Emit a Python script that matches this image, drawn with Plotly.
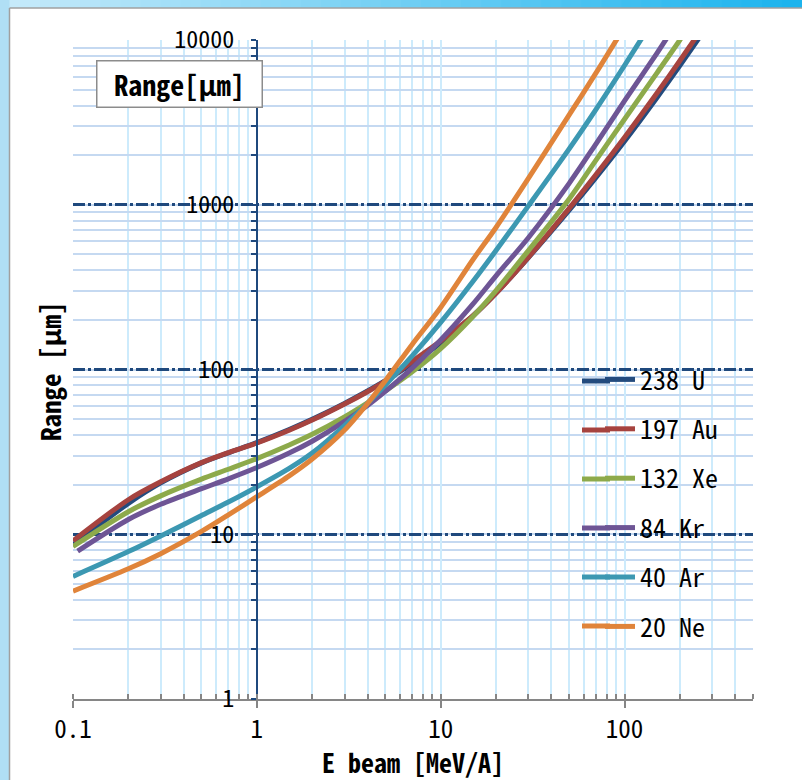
import plotly.graph_objects as go

# ---------------- data ----------------
energy_U = [0.1, 0.2, 0.3, 0.5, 0.7, 1, 1.5, 2, 3, 4, 5, 7, 10, 15, 20, 30, 50, 70, 100, 150, 200, 300]
range_U = [8.61, 15.4, 20.5, 27.1, 31.2, 36.0, 43.2, 49.8, 62.2, 74.0, 85.5, 109, 145, 212, 291, 478, 927,
           1466, 2432, 4467, 6998, 13400]

energy_Au = [0.1, 0.2, 0.3, 0.5, 0.7, 1, 1.5, 2, 3, 4, 5, 7, 10, 15, 20, 30, 50, 70, 100, 150, 200, 300]
range_Au = [9.12, 16.2, 20.8, 27.2, 31.3, 35.8, 42.8, 49.3, 61.7, 73.3, 84.9, 112, 149, 212, 290, 480, 951,
            1524, 2564, 4753, 7482, 14420]

energy_Xe = [0.1, 0.2, 0.3, 0.5, 0.7, 1, 1.5, 2, 3, 4, 5, 7, 10, 15, 20, 30, 50, 70, 100, 150, 200, 300]
range_Xe = [8.43, 13.7, 17.1, 21.6, 24.8, 28.8, 34.8, 40.4, 51.5, 62.7, 74.0, 96.8, 134, 210, 301, 527, 1084,
            1866, 3303, 6300, 10000, 20000]

energy_Kr = [0.106, 0.2, 0.3, 0.5, 0.7, 1, 1.5, 2, 3, 4, 5, 7, 10, 15, 20, 30, 50, 70, 100, 150, 200]
range_Kr = [7.91, 12.3, 15.2, 18.9, 21.7, 25.4, 31.1, 36.7, 48.4, 60.5, 73.6, 102, 151, 250, 370, 631, 1349,
            2344, 4266, 8300, 13600]

energy_Ar = [0.1, 0.2, 0.3, 0.5, 0.7, 1, 1.5, 2, 3, 4, 5, 7, 10, 15, 20, 30, 50, 70, 100, 150]
range_Ar = [5.55, 7.85, 9.77, 13.0, 15.7, 19.4, 25.1, 31.1, 45.7, 62.4, 80.5, 121, 193, 343, 527, 984, 2183,
            3793, 7000, 14290]

energy_Ne = [0.1, 0.2, 0.3, 0.5, 0.7, 1, 1.5, 2, 3, 4, 5, 7, 10, 15, 20, 30, 50, 70, 100]
range_Ne = [4.52, 6.17, 7.62, 10.4, 13.1, 16.9, 22.6, 28.6, 42.9, 62.2, 85.5, 142, 238, 465, 728, 1445, 3508,
            6310, 12020]

series_names = ["238 U", "197 Au", "132 Xe", "84 Kr", "40 Ar", "20 Ne"]
x_tick_vals = [0.1, 1, 10, 100]
x_tick_text = ["0.1", "1", "10", "100"]
y_tick_vals = [1, 10, 100, 1000, 10000]
y_tick_text = ["1", "10", "100", "1000", "10000"]
x_title = "E beam [MeV/A]"
y_title = "Range [μm]"
box_title = "Range[μm]"

# ---------------- styling ----------------
colors = ["#234B7E", "#A6433F", "#8DAA4B", "#6E5595", "#3C98B2", "#E0843A"]
FONT = "Noto Sans Mono CJK JP, Noto Sans CJK JP, sans-serif"
W, H = 802, 780
L, R, T, B = 73, 49, 40, 81
PW, PH = W - L - R, H - T - B


def px(x):
    return (x - L) / PW


def py(y):
    return (H - B - y) / PH


fig = go.Figure()
data = [
    (energy_U, range_U), (energy_Au, range_Au), (energy_Xe, range_Xe),
    (energy_Kr, range_Kr), (energy_Ar, range_Ar), (energy_Ne, range_Ne),
]
for (ex, ry), name, col in zip(data, series_names, colors):
    fig.add_trace(go.Scatter(
        x=ex, y=ry, name=name, mode="lines", legendgroup=name,
        line=dict(color=col, width=5, shape="spline", smoothing=0.8),
    ))

shapes = []
# outer frame: left light-blue strip and top gradient strip
n = 40
c0 = (198, 234, 250)
c1 = (28, 180, 238)
for i in range(n):
    t = i / (n - 1)
    c = tuple(int(round(c0[k] + (c1[k] - c0[k]) * t)) for k in range(3))
    shapes.append(dict(type="rect", xref="paper", yref="paper",
                       x0=px(W * i / n), x1=px(W * (i + 1) / n + 1), y0=py(8), y1=py(-2),
                       fillcolor="rgb(%d,%d,%d)" % c, line=dict(width=0), layer="above"))
shapes.append(dict(type="rect", xref="paper", yref="paper", x0=px(-2), x1=px(9.5), y0=py(H + 2), y1=py(-2),
                   fillcolor="#B0DFF5", line=dict(width=0), layer="above"))
shapes.append(dict(type="line", xref="paper", yref="paper", x0=px(9.5), x1=px(9.5), y0=py(H + 2), y1=py(8),
                   line=dict(color="#A0A0A0", width=1.5), layer="above"))
shapes.append(dict(type="line", xref="paper", yref="paper", x0=px(9.5), x1=px(W + 2), y0=py(8), y1=py(8),
                   line=dict(color="#A0A0A0", width=1.5), layer="above"))
# white legend background box
shapes.append(dict(type="rect", xref="paper", yref="paper", x0=px(570), x1=px(734), y0=py(650), y1=py(354),
                   fillcolor="white", line=dict(width=0), layer="between"))
# longer legend line samples (left part of each sample)
for k, col in enumerate(colors):
    yk = 381 + 49 * k
    shapes.append(dict(type="line", xref="paper", yref="paper", x0=px(582), x1=px(610), y0=py(yk), y1=py(yk),
                       line=dict(color=col, width=5), layer="above"))

annotations = [
    dict(text=box_title, xref="paper", yref="paper", x=px(179.5), y=py(83.5), xanchor="center", yanchor="middle",
         showarrow=False, font=dict(family=FONT, size=28, color="black", weight="bold"),
         bgcolor="white", bordercolor="#8C8C8C", borderwidth=1.5, width=162, height=43, borderpad=1),
    dict(text=y_title, xref="paper", yref="paper", x=px(49), y=py(372), xanchor="center", yanchor="middle",
         textangle=-90, showarrow=False, font=dict(family=FONT, size=27, color="black", weight="bold")),
]

fig.update_layout(
    width=W, height=H,
    margin=dict(l=L, r=R, t=T, b=B, autoexpand=False),
    paper_bgcolor="white", plot_bgcolor="white",
    shapes=shapes, annotations=annotations,
    showlegend=True,
    legend=dict(x=px(600), y=py(356), xanchor="left", yanchor="top", bgcolor="rgba(0,0,0,0)",
                font=dict(family=FONT, size=26, color="black"), tracegroupgap=12.6, itemwidth=30),
    xaxis=dict(
        type="log", range=[-1, 2.699], tickvals=x_tick_vals, ticktext=x_tick_text,
        showgrid=True, gridcolor="#CDEBFC", gridwidth=2,
        showline=True, linecolor="#868686", linewidth=1.5,
        ticks="outside", ticklen=7, tickcolor="#868686", tickwidth=1.5,
        tickfont=dict(family=FONT, size=25, color="black"),
        minor=dict(dtick="D1", showgrid=True, gridcolor="#CDEBFC", gridwidth=2, griddash="solid",
                   ticks="inside", ticklen=5, tickcolor="#868686", tickwidth=1.5),
        zeroline=False, mirror=False,
        title=dict(text=x_title, font=dict(family=FONT, size=26, color="black", weight="bold"), standoff=12),
    ),
    yaxis=dict(
        type="log", range=[0, 4], tickvals=y_tick_vals, ticktext=y_tick_text,
        anchor="free", position=px(257),
        showgrid=True, gridcolor="#1F497D", gridwidth=2.5, griddash="12px,3px,3px,3px",
        showline=True, linecolor="#1F497D", linewidth=2,
        ticks="outside", ticklen=5, tickcolor="#1F497D", tickwidth=1.5,
        ticklabelstandoff=12,
        tickfont=dict(family=FONT, size=24, color="black"),
        minor=dict(dtick="D1", showgrid=True, gridcolor="#C5D9F1", gridwidth=2, griddash="solid",
                   ticks="outside", ticklen=5, tickcolor="#1F497D", tickwidth=1.5),
        zeroline=False,
    ),
)

fig.write_html(
    "out.html",
    config={"displayModeBar": False},
    post_script="document.body.style.margin='0px';document.body.style.overflow='hidden';",
)
